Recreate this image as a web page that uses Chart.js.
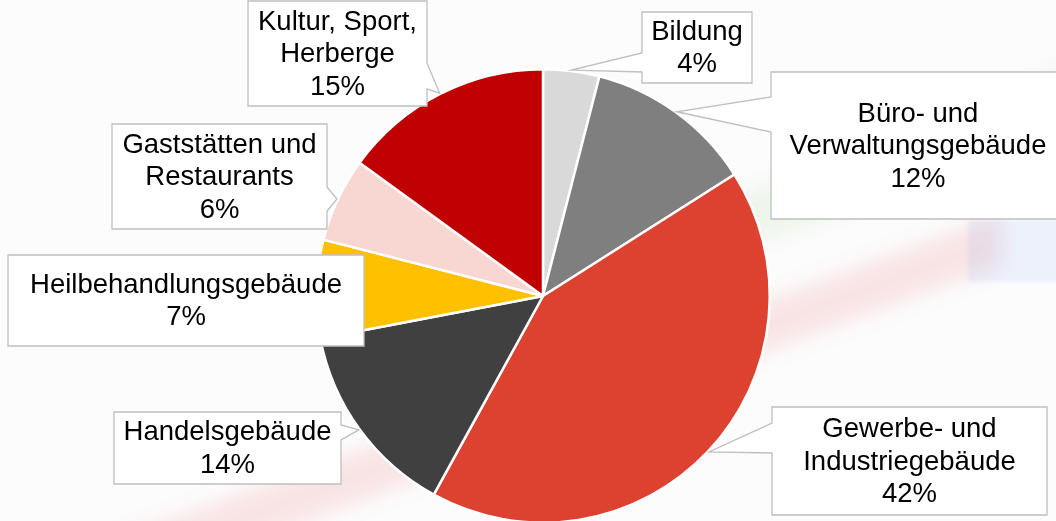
<!DOCTYPE html>
<html>
<head>
<meta charset="utf-8">
<script src="https://cdn.jsdelivr.net/npm/chart.js@4.4.1/dist/chart.umd.min.js"></script>
<style>
  html, body { margin: 0; padding: 0; background: #fcfcfc; overflow: hidden; }
  #wrap { position: absolute; left: 0; top: 0; width: 1056px; height: 530px; }
</style>
</head>
<body>
<div id="wrap"><canvas id="c" width="1056" height="530"></canvas></div>
<script>
// ---- data ----
const categories = [
  ["Bildung"],
  ["Büro- und", "Verwaltungsgebäude"],
  ["Gewerbe- und", "Industriegebäude"],
  ["Handelsgebäude"],
  ["Heilbehandlungsgebäude"],
  ["Gaststätten und", "Restaurants"],
  ["Kultur, Sport,", "Herberge"]
];
const shares = [4, 12, 42, 14, 7, 6, 15];
const sliceColors = ["#d9d9d9", "#7f7f7f", "#dd4130", "#404040", "#ffc000", "#f8d7d3", "#c00000"];

// ---- callout layout (box geometry, pointer side / base offsets) ----
const calloutBoxes = [
  { x: 642, y: 12,  w: 110, h: 71,  side: "left",  b1: 53,  b2: 72 },
  { x: 771, y: 72,  w: 294, h: 147, side: "left",  b1: 97,  b2: 132 },
  { x: 772, y: 407, w: 275, h: 108, side: "left",  b1: 423, b2: 453 },
  { x: 114, y: 412, w: 227, h: 72,  side: "right", b1: 425, b2: 440 },
  { x: 8,   y: 255, w: 356, h: 91,  side: null },
  { x: 112, y: 124, w: 215, h: 105, side: "right", b1: 187, b2: 211 },
  { x: 248, y: 1,   w: 179, h: 105, side: "right", b1: 63,  b2: 89 }
];

const backgroundPlugin = {
  id: "bgwash",
  beforeDraw(chart) {
    const ctx = chart.ctx;
    ctx.save();
    ctx.filter = "blur(10px)";
    // green band (top right)
    ctx.fillStyle = "rgba(120,200,90,0.10)";
    ctx.beginPath();
    ctx.moveTo(620, 240); ctx.lineTo(1080, 60); ctx.lineTo(1080, 130); ctx.lineTo(660, 280);
    ctx.closePath(); ctx.fill();
    // red band diagonal
    ctx.fillStyle = "rgba(235,70,70,0.13)";
    ctx.beginPath();
    ctx.moveTo(60, 560); ctx.lineTo(1000, 215); ctx.lineTo(1000, 265); ctx.lineTo(200, 560);
    ctx.closePath(); ctx.fill();
    ctx.filter = "blur(2px)";
    // blue block
    ctx.fillStyle = "rgba(90,140,235,0.10)";
    ctx.fillRect(968, 220, 100, 62);
    ctx.restore();
  }
};

const calloutPlugin = {
  id: "callouts",
  afterDatasetsDraw(chart) {
    const ctx = chart.ctx;
    const meta = chart.getDatasetMeta(0);
    const data = chart.data.datasets[0].data;
    ctx.save();
    meta.data.forEach((arc, i) => {
      const b = calloutBoxes[i];
      const p = arc.getProps(["x", "y", "startAngle", "endAngle", "outerRadius"], true);
      const mid = (p.startAngle + p.endAngle) / 2;
      const tx = p.x + Math.cos(mid) * (p.outerRadius + 1);
      const ty = p.y + Math.sin(mid) * (p.outerRadius + 1);
      ctx.beginPath();
      const L = b.x, T = b.y, R = b.x + b.w, B = b.y + b.h;
      ctx.moveTo(L, T);
      ctx.lineTo(R, T);
      if (b.side === "right") {
        ctx.lineTo(R, b.b1); ctx.lineTo(tx, ty); ctx.lineTo(R, b.b2);
      }
      ctx.lineTo(R, B);
      ctx.lineTo(L, B);
      if (b.side === "left") {
        ctx.lineTo(L, b.b2); ctx.lineTo(tx, ty); ctx.lineTo(L, b.b1);
      }
      ctx.closePath();
      ctx.fillStyle = "#ffffff";
      ctx.fill();
      ctx.lineWidth = 1.3;
      ctx.strokeStyle = "#bfbfbf";
      ctx.stroke();

      const lines = categories[i].concat([data[i] + "%"]);
      const lh = 32.5;
      ctx.fillStyle = "#000000";
      ctx.font = '27.5px "Liberation Sans", Arial, sans-serif';
      ctx.textAlign = "center";
      ctx.textBaseline = "middle";
      const cx = b.x + b.w / 2;
      const cy = b.y + b.h / 2;
      const top = cy - (lines.length - 1) * lh / 2;
      lines.forEach((t, k) => ctx.fillText(t, cx, top + k * lh + 1));
    });
    ctx.restore();
  }
};

new Chart(document.getElementById("c"), {
  type: "pie",
  data: {
    labels: categories,
    datasets: [{
      data: shares,
      backgroundColor: sliceColors,
      borderColor: "#ffffff",
      borderWidth: 2.5
    }]
  },
  options: {
    responsive: false,
    animation: false,
    layout: { padding: { left: 315, top: 68, right: 285, bottom: 6 } },
    plugins: {
      legend: { display: false },
      tooltip: { enabled: false }
    }
  },
  plugins: [backgroundPlugin, calloutPlugin]
});
</script>
</body>
</html>
